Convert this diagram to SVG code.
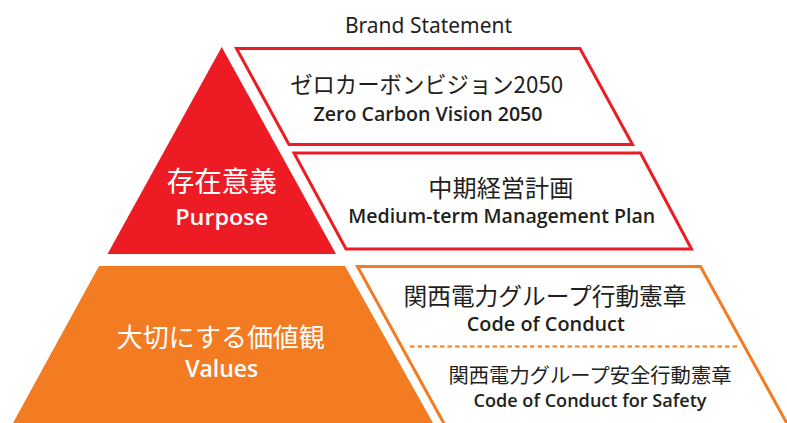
<svg xmlns="http://www.w3.org/2000/svg" width="787" height="423" viewBox="0 0 787 423">
  <style>
    .bg { fill: #ffffff; }
    .red-fill { fill: #ED1C24; }
    .org-fill { fill: #F37B21; }
    .red-box { fill: #ffffff; stroke: #ED1C24; stroke-width: 3; stroke-linejoin: miter; }
    .org-box { fill: #ffffff; stroke: #F37B21; stroke-width: 3; stroke-linejoin: miter; }
    .divider { fill: none; stroke: #F37B21; stroke-width: 2; stroke-dasharray: 4.5 3; }
    text { text-anchor: middle; }
    .jp { font-family: "Noto Sans CJK JP", "Noto Sans", sans-serif; fill: #231F20; }
    .en { font-family: "Open Sans", "Noto Sans", "Liberation Sans", sans-serif; font-weight: 600; fill: #231F20; }
    .en-reg { font-family: "Noto Sans", "Liberation Sans", sans-serif; fill: #231F20; }
    .white { fill: #ffffff; }
  </style>
  <rect class="bg" x="0" y="0" width="787" height="423"/>

  <g id="brand-statement-label">
    <text class="en-reg" x="428.5" y="33" font-size="21" textLength="167" lengthAdjust="spacingAndGlyphs">Brand Statement</text>
  </g>

  <g id="purpose">
    <polygon class="red-fill" points="221.7,47 336,254 107.5,254"/>
    <text class="jp white" x="221.7" y="192" font-size="28" textLength="110" lengthAdjust="spacingAndGlyphs">存在意義</text>
    <text class="en white" x="221.7" y="225" font-size="22" textLength="93" lengthAdjust="spacingAndGlyphs">Purpose</text>
  </g>

  <g id="zero-carbon-vision">
    <polygon class="red-box" points="236.5,48.5 580,48.5 632.5,144.5 289,144.5"/>
    <text class="jp" x="426.7" y="93" font-size="23" textLength="273" lengthAdjust="spacingAndGlyphs">ゼロカーボンビジョン2050</text>
    <text class="en" x="428" y="120.7" font-size="19.5" textLength="229" lengthAdjust="spacingAndGlyphs">Zero Carbon Vision 2050</text>
  </g>

  <g id="management-plan">
    <polygon class="red-box" points="294,153 640.5,153 691.5,249 346,249"/>
    <text class="jp" x="500.8" y="197" font-size="24" textLength="145" lengthAdjust="spacingAndGlyphs">中期経営計画</text>
    <text class="en" x="501.7" y="223.3" font-size="19.5" textLength="307" lengthAdjust="spacingAndGlyphs">Medium-term Management Plan</text>
  </g>

  <g id="values">
    <polygon class="org-fill" points="99,266 345,266 433,423 13,423"/>
    <text class="jp white" x="220.8" y="347" font-size="26" textLength="208" lengthAdjust="spacingAndGlyphs">大切にする価値観</text>
    <text class="en white" x="221.7" y="376.7" font-size="23" textLength="73" lengthAdjust="spacingAndGlyphs">Values</text>
  </g>

  <g id="codes-of-conduct">
    <polygon class="org-box" points="357.5,266.5 700.5,266.5 790,429 447,429"/>
    <line class="divider" x1="410" y1="346.5" x2="738.5" y2="346.5"/>
    <text class="jp" x="545" y="304.5" font-size="24" textLength="283" lengthAdjust="spacingAndGlyphs">関西電力グループ行動憲章</text>
    <text class="en" x="545.8" y="331" font-size="19.5" textLength="158" lengthAdjust="spacingAndGlyphs">Code of Conduct</text>
    <text class="jp" x="590" y="383" font-size="20.5" textLength="283" lengthAdjust="spacingAndGlyphs">関西電力グループ安全行動憲章</text>
    <text class="en" x="590" y="406.7" font-size="17.5" textLength="233" lengthAdjust="spacingAndGlyphs">Code of Conduct for Safety</text>
  </g>
</svg>
